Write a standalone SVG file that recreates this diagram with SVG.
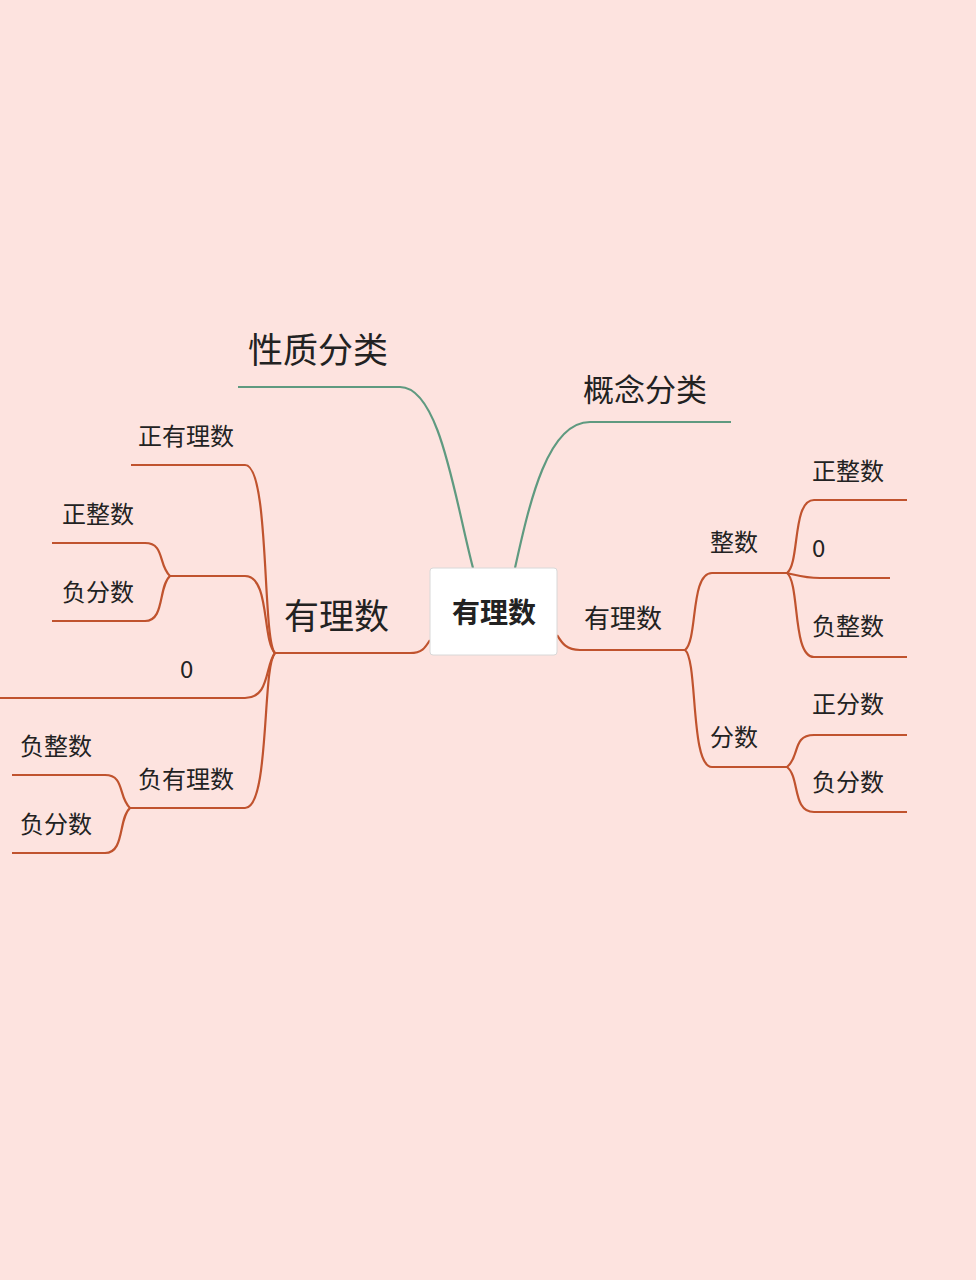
<svg xmlns="http://www.w3.org/2000/svg" width="976" height="1280" viewBox="0 0 976 1280">
<style>
.o{fill:none;stroke:#c0532e;stroke-width:2.2}
.g{fill:none;stroke:#5f9a80;stroke-width:2.2}
text{font-family:"Noto Sans CJK SC","Liberation Sans",sans-serif;fill:#222}
.s{font-size:24px}
</style>
<rect width="976" height="1280" fill="#fde3df"/>
<g id="connectors">
<path class="g" d="M473,568 C455,500 440,387 400,387 L238,387"/>
<path class="g" d="M515,568 C530,500 548,422 590,422 L731,422"/>
<path class="o" d="M430,640 C425,648 422,653 410,653 L275,653"/>
<path class="o" d="M275,653 C262,640 270,465 245,465 L131,465"/>
<path class="o" d="M275,653 C262,640 270,576 245,576 L170,576"/>
<path class="o" d="M275,653 C265,665 270,698 245,698 L0,698"/>
<path class="o" d="M275,653 C262,666 270,808 245,808 L130,808"/>
<path class="o" d="M170,576 C158,565 165,543 145,543 L52,543"/>
<path class="o" d="M170,576 C158,587 165,621 145,621 L52,621"/>
<path class="o" d="M130,808 C118,797 125,775 105,775 L12,775"/>
<path class="o" d="M130,808 C118,819 125,853 105,853 L12,853"/>
<path class="o" d="M557,635 C562,643 566,650 580,650 L685,650"/>
<path class="o" d="M685,650 C698,640 690,573 712,573 L787,573"/>
<path class="o" d="M685,650 C698,660 690,767 712,767 L787,767"/>
<path class="o" d="M787,573 C800,563 792,500 814,500 L907,500"/>
<path class="o" d="M787,573 C800,576 805,578 820,578 L890,578"/>
<path class="o" d="M787,573 C800,583 792,657 814,657 L907,657"/>
<path class="o" d="M787,767 C800,757 792,735 814,735 L907,735"/>
<path class="o" d="M787,767 C800,777 792,812 814,812 L907,812"/>
</g>
<g id="root"><rect x="430" y="568" width="127" height="87" rx="3" fill="#fff" stroke="#d8d8d8"/><text x="494" y="623" font-size="28" font-weight="bold" text-anchor="middle">有理数</text></g>
<g id="n1"><text x="248" y="363" font-size="35">性质分类</text></g>
<g id="n2"><text x="583" y="401" font-size="31">概念分类</text></g>
<g id="n3"><text x="284" y="629" font-size="35">有理数</text></g>
<g id="n4"><text class="s" x="138" y="445">正有理数</text></g>
<g id="n5"><text class="s" x="62" y="523">正整数</text></g>
<g id="n6"><text class="s" x="62" y="601">负分数</text></g>
<g id="n7"><text class="s" x="180" y="678">0</text></g>
<g id="n8"><text class="s" x="138" y="788">负有理数</text></g>
<g id="n9"><text class="s" x="20" y="755">负整数</text></g>
<g id="n10"><text class="s" x="20" y="833">负分数</text></g>
<g id="n11"><text x="584" y="628" font-size="26">有理数</text></g>
<g id="n12"><text class="s" x="710" y="551">整数</text></g>
<g id="n13"><text class="s" x="710" y="746">分数</text></g>
<g id="n14"><text class="s" x="812" y="480">正整数</text></g>
<g id="n15"><text class="s" x="812" y="557">0</text></g>
<g id="n16"><text class="s" x="812" y="635">负整数</text></g>
<g id="n17"><text class="s" x="812" y="713">正分数</text></g>
<g id="n18"><text class="s" x="812" y="791">负分数</text></g>
</svg>
